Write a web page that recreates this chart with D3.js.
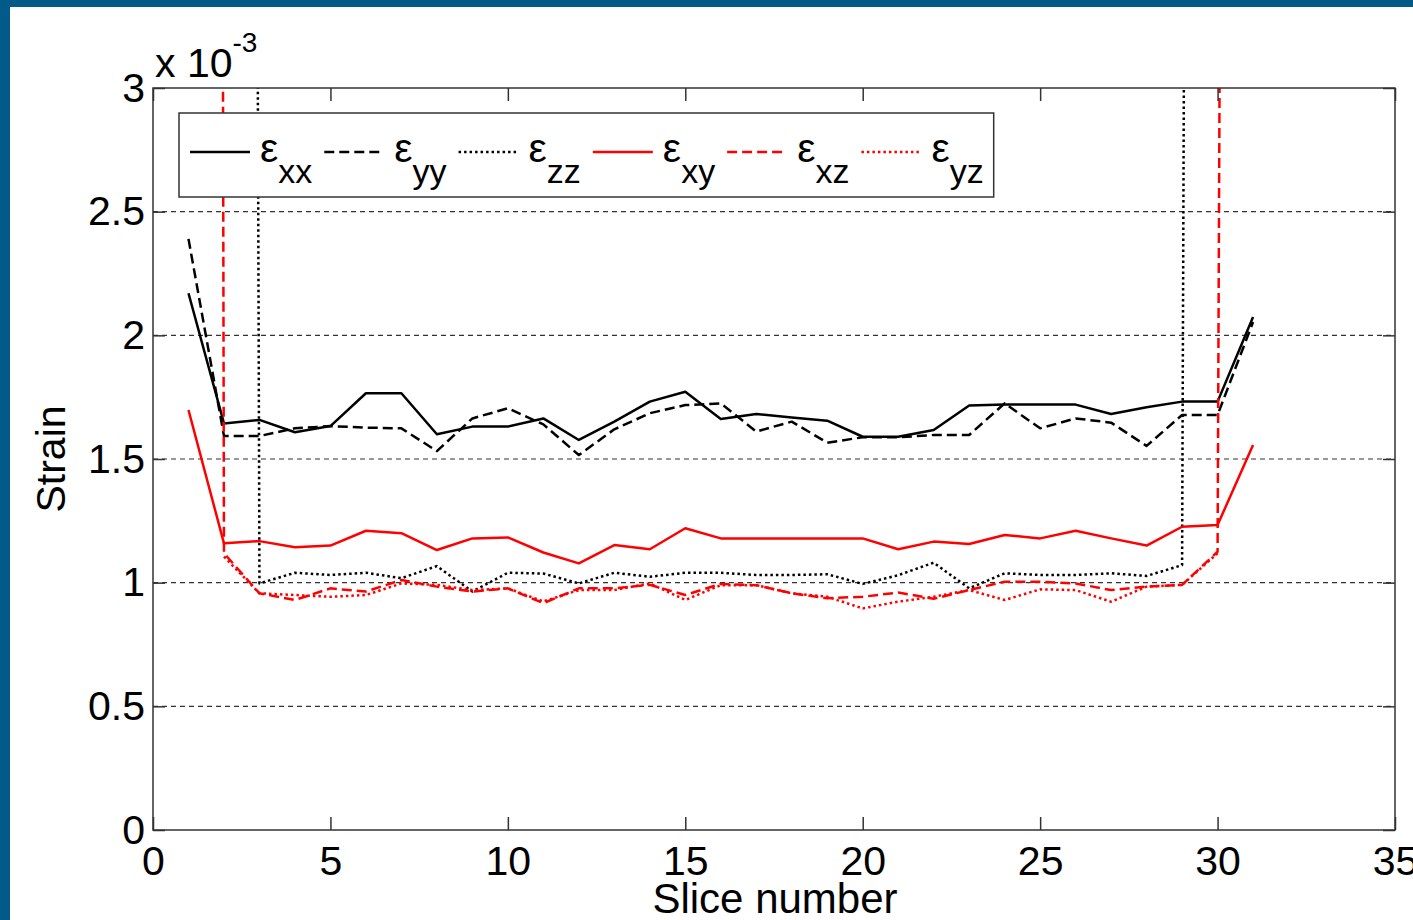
<!DOCTYPE html>
<html>
<head>
<meta charset="utf-8">
<script src="https://cdn.jsdelivr.net/npm/d3@7"></script>
<style>
  html, body { margin: 0; padding: 0; background: #ffffff; }
  svg { display: block; font-family: "Liberation Sans", Arial, sans-serif; }
</style>
</head>
<body>
<svg id="chart" width="1413" height="920"></svg>
<script>
// Strain components per slice, in units of 1e-3.
// Very large entries are boundary slices whose values run far off the axis;
// null marks a slice with no value.
const slices = [1, 2, 3, 4, 5, 6, 7, 8, 9, 10, 11, 12, 13, 14, 15, 16,
                17, 18, 19, 20, 21, 22, 23, 24, 25, 26, 27, 28, 29, 30, 31];

const epsXX = [2.17, 1.644, 1.658, 1.608, 1.633, 1.766, 1.766, 1.600, 1.631, 1.631,
               1.664, 1.577, 1.651, 1.732, 1.772, 1.662, 1.682, 1.668, 1.655, 1.590,
               1.590, 1.617, 1.716, 1.720, 1.720, 1.720, 1.682, 1.709, 1.732, 1.732, 2.074];

const epsYY = [2.39, 1.593, 1.593, 1.624, 1.633, 1.627, 1.624, 1.532, 1.664, 1.705,
               1.640, 1.516, 1.620, 1.685, 1.718, 1.725, 1.611, 1.651, 1.566, 1.588,
               1.588, 1.597, 1.597, 1.725, 1.624, 1.664, 1.647, 1.553, 1.678, 1.678, 2.054];

const epsZZ = [60, 45, 0.997, 1.040, 1.031, 1.040, 1.018, 1.067, 0.964, 1.040,
               1.037, 0.997, 1.040, 1.024, 1.040, 1.040, 1.031, 1.031, 1.034, 0.995,
               1.030, 1.081, 0.977, 1.038, 1.031, 1.031, 1.038, 1.027, 1.071, 40, 55];

const epsXY = [1.698, 1.159, 1.168, 1.143, 1.150, 1.210, 1.200, 1.132, 1.179, 1.183,
               1.122, 1.078, 1.152, 1.135, 1.220, 1.179, 1.179, 1.179, 1.179, 1.179,
               1.135, 1.166, 1.156, 1.193, 1.179, 1.210, 1.179, 1.150, 1.226, 1.233, 1.557];

const epsXZ = [70, 1.119, 0.957, 0.930, 0.977, 0.964, 1.011, 0.984, 0.964, 0.977,
               0.917, 0.977, 0.977, 0.991, 0.950, 0.995, 0.990, 0.957, 0.937, 0.943,
               0.960, 0.935, 0.970, 1.004, 1.004, 0.997, 0.970, 0.984, 0.991, 1.125, 35];

const epsYZ = [null, 1.105, 0.957, 0.950, 0.943, 0.950, 0.997, 0.991, 0.970, 0.977,
               0.924, 0.970, 0.970, 0.997, 0.930, 0.990, 0.990, 0.957, 0.943, 0.896,
               0.923, 0.943, 0.970, 0.930, 0.973, 0.970, 0.923, 0.984, 0.991, 1.119, null];

const xTicks = [0, 5, 10, 15, 20, 25, 30, 35];
const yTicks = [0, 0.5, 1, 1.5, 2, 2.5, 3];
const gridValues = [0.5, 1, 1.5, 2, 2.5];

const seriesNames = ["xx", "yy", "zz", "xy", "xz", "yz"];
const seriesValues = [epsXX, epsYY, epsZZ, epsXY, epsXZ, epsYZ];
const seriesColors = ["#000000", "#000000", "#000000", "#ff0000", "#ff0000", "#ff0000"];
const seriesDashes = [null, "10,5", "2.5,3", null, "10,5", "2.5,3"];

(function drawChart() {
  const svg = d3.select("#chart");
  const W = 1413, H = 920;
  const pLeft = 153, pRight = 1395, pTop = 88, pBottom = 830;
  const axisColor = "#333333";
  const fontSize = 41;
  const lineWidth = 2.5;

  svg.append("rect").attr("width", W).attr("height", H).attr("fill", "#ffffff");

  const x = d3.scaleLinear().domain([0, 35]).range([pLeft, pRight]);
  const y = d3.scaleLinear().domain([0, 3]).range([pBottom, pTop]);

  // Horizontal dashed grid
  svg.append("g").selectAll("line").data(gridValues).join("line")
    .attr("x1", pLeft).attr("x2", pRight)
    .attr("y1", d => y(d)).attr("y2", d => y(d))
    .attr("stroke", axisColor).attr("stroke-width", 1.2)
    .attr("stroke-dasharray", "5,4");

  // Data lines, clipped to the plot box
  svg.append("clipPath").attr("id", "plotClip")
    .append("rect").attr("x", pLeft).attr("y", pTop)
    .attr("width", pRight - pLeft).attr("height", pBottom - pTop);

  const line = d3.line()
    .defined(d => d !== null)
    .x((d, i) => x(slices[i]))
    .y(d => y(d));

  const lines = svg.append("g").attr("clip-path", "url(#plotClip)");
  seriesValues.forEach((vals, k) => {
    lines.append("path")
      .attr("d", line(vals))
      .attr("fill", "none")
      .attr("stroke", seriesColors[k])
      .attr("stroke-width", lineWidth)
      .attr("stroke-linejoin", "round")
      .attr("stroke-dasharray", seriesDashes[k]);
  });

  // Axes with inward ticks on all four sides
  function styleAxis(g) {
    g.select(".domain").remove();
    g.selectAll(".tick line").attr("stroke", axisColor).attr("stroke-width", 1.5);
    g.selectAll(".tick text").attr("fill", "#000").attr("font-size", fontSize)
      .attr("font-family", "Liberation Sans, Arial, sans-serif");
  }

  svg.append("g").attr("transform", `translate(${pLeft},0)`)
    .call(d3.axisLeft(y).tickValues(yTicks).tickSize(-12).tickPadding(8).tickFormat(d3.format("")))
    .call(styleAxis);

  svg.append("g").attr("transform", `translate(${pRight},0)`)
    .call(d3.axisRight(y).tickValues(yTicks).tickSize(-12).tickFormat(""))
    .call(styleAxis);

  svg.append("g").attr("transform", `translate(0,${pBottom})`)
    .call(d3.axisBottom(x).tickValues(xTicks).tickSize(-13).tickPadding(16))
    .call(styleAxis);

  svg.append("g").attr("transform", `translate(0,${pTop})`)
    .call(d3.axisTop(x).tickValues(xTicks).tickSize(-13).tickFormat(""))
    .call(styleAxis);

  // Plot box
  svg.append("rect")
    .attr("x", pLeft).attr("y", pTop)
    .attr("width", pRight - pLeft).attr("height", pBottom - pTop)
    .attr("fill", "none").attr("stroke", axisColor).attr("stroke-width", 1.5);

  // Exponent label
  const expo = svg.append("text").attr("x", 155).attr("y", 77)
    .attr("font-size", fontSize).attr("fill", "#000");
  expo.append("tspan").text("x 10");
  expo.append("tspan").attr("font-size", 28).attr("dy", -25).text("-3");

  // Axis titles
  svg.append("text")
    .attr("x", (pLeft + pRight) / 2 + 1).attr("y", 913)
    .attr("text-anchor", "middle").attr("font-size", 42).attr("fill", "#000")
    .text("Slice number");

  svg.append("text")
    .attr("transform", "translate(65,459) rotate(-90)")
    .attr("text-anchor", "middle").attr("font-size", fontSize).attr("fill", "#000")
    .text("Strain");

  // Legend
  const legend = svg.append("g");
  const legendBox = legend.append("rect")
    .attr("x", 179).attr("y", 113).attr("height", 84)
    .attr("fill", "#ffffff").attr("stroke", axisColor).attr("stroke-width", 1.5);

  let cx = 190;
  const sampleY = 152, sampleLen = 60;
  seriesNames.forEach((name, k) => {
    legend.append("line")
      .attr("x1", cx).attr("x2", cx + sampleLen)
      .attr("y1", sampleY).attr("y2", sampleY)
      .attr("stroke", seriesColors[k]).attr("stroke-width", lineWidth)
      .attr("stroke-dasharray", seriesDashes[k]);
    const t = legend.append("text")
      .attr("x", cx + sampleLen + 10).attr("y", 162)
      .attr("font-size", fontSize).attr("fill", "#000");
    t.append("tspan").text("\u03b5");
    t.append("tspan").attr("font-size", 34).attr("dy", 21).text(name);
    const w = t.node().getComputedTextLength();
    cx = cx + sampleLen + 10 + w + 12;
  });
  legendBox.attr("width", cx - 12 + 10 - 179);

  // Window frame
  svg.append("rect").attr("x", 0).attr("y", 0).attr("width", W).attr("height", 7).attr("fill", "#025a88");
  svg.append("rect").attr("x", 0).attr("y", 0).attr("width", 10).attr("height", H).attr("fill", "#025a88");
})();
</script>
</body>
</html>
